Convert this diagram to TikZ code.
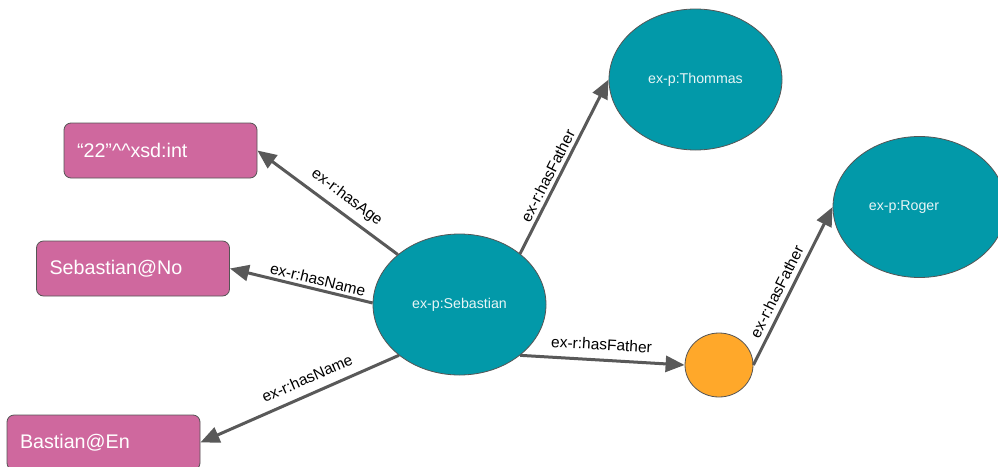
\documentclass[tikz,border=0pt]{standalone}
\usepackage{fontspec}
\setmainfont{Liberation Sans}
\usetikzlibrary{shapes.geometric,arrows.meta}

\definecolor{resteal}{HTML}{0299A9}
\definecolor{restextcol}{HTML}{E8F5F6}
\definecolor{litpink}{HTML}{CF689E}
\definecolor{blankorange}{HTML}{FFA82A}
\definecolor{edgegray}{HTML}{595959}
\definecolor{rimgray}{HTML}{555555}

\tikzset{
  resource/.style={ellipse, draw=rimgray, line width=0.8pt, fill=resteal,
    minimum width=173pt, minimum height=141pt, inner sep=0pt,
    text=restextcol, font=\fontsize{14.2}{17}\selectfont},
  restext/.style={inner sep=0pt, text=restextcol, font=\fontsize{14.2}{17}\selectfont},
  literal/.style={rectangle, rounded corners=7pt, draw=rimgray, line width=0.8pt,
    fill=litpink, text=white, align=left, text width=167pt, inner xsep=13pt,
    minimum height=55pt, font=\fontsize{19.7}{23}\selectfont},
  bnode/.style={ellipse, draw=rimgray, line width=0.8pt, fill=blankorange,
    minimum width=68pt, minimum height=64pt, inner sep=0pt},
  rel/.style={draw=edgegray, line width=3pt,
    -{Triangle[length=19pt,width=16pt]}},
  lbl/.style={sloped, inner sep=0pt, text depth=0pt, text=black,
    font=\fontsize{15.5}{18}\selectfont}
}

\begin{document}
\begin{tikzpicture}[x=1pt, y=-1pt]
  \useasboundingbox (0,0) rectangle (998,466);
  \clip (0,0) rectangle (998,466);
  \fill[white] (0,0) rectangle (998,466);

  % resources
  \node[resource] (seb) at (459.5,304.5) {ex-p:Sebastian};
  \node[resource] (thommas) at (695.5,79.5) {ex-p:Thommas};
  \node[resource] (roger) at (919.5,207) {};
  \node[restext] (rogertext) at (904,207.5) {ex-p:Roger};

  % blank node
  \node[bnode] (blank) at (719,365) {};

  % literals
  \node[literal] (age) at (160.5,150.5) {“22”\^{}\^{}xsd:int};
  \node[literal] (nameno) at (133,268.5) {Sebastian@No};
  \node[literal] (nameen) at (103.5,442.5) {Bastian@En};

  % properties
  \draw[rel] (seb.141) -- node[lbl, pos=0.43, above=10pt] {ex-r:hasAge} (age.east);
  \draw[rel] (seb.179) -- node[lbl, pos=0.40, above=3pt] {ex-r:hasName} (nameno.east);
  \draw[rel] (seb.220) -- node[lbl, pos=0.43, above=9pt] {ex-r:hasName} (nameen.east);
  \draw[rel] (seb.40) -- node[lbl, pos=0.42, above=3.5pt] {ex-r:hasFather} (thommas.west);
  \draw[rel] (seb.320) -- node[lbl, pos=0.49, above=8.5pt] {ex-r:hasFather} (blank.west);
  \draw[rel] (blank.east) -- node[lbl, pos=0.43, above=5pt] {ex-r:hasFather} (roger.west);
\end{tikzpicture}
\end{document}
